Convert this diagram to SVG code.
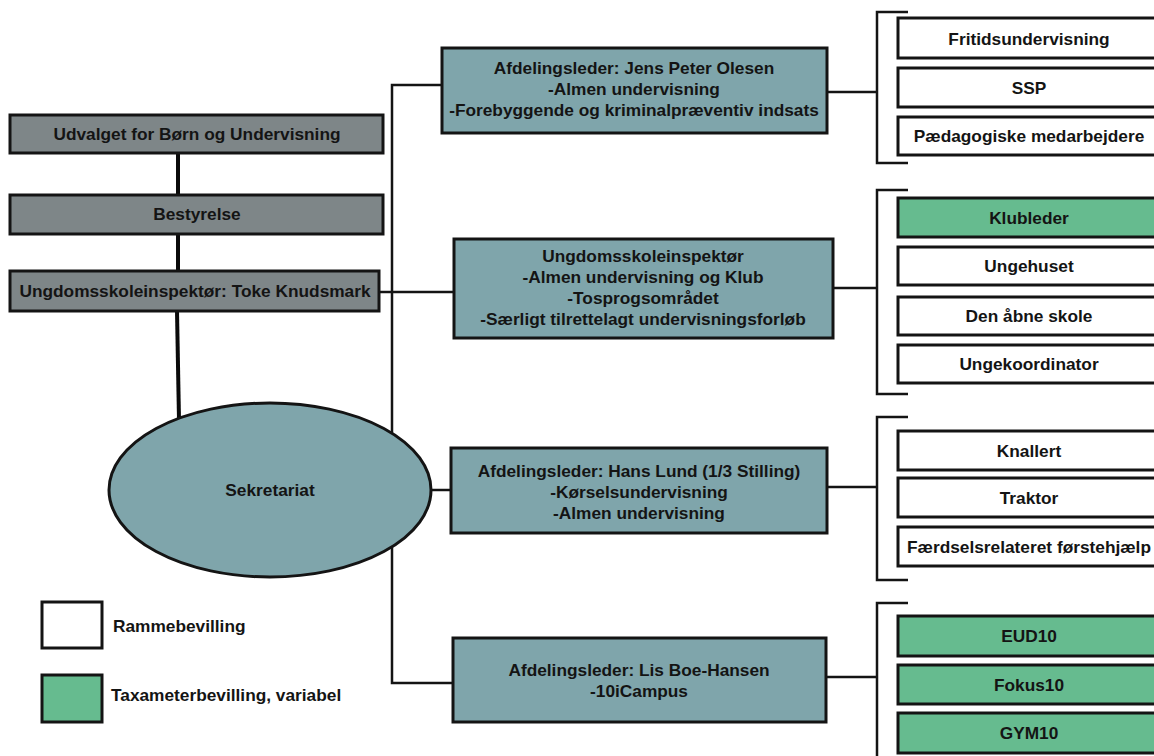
<svg xmlns="http://www.w3.org/2000/svg" width="1154" height="756" viewBox="0 0 1154 756">
<style>
text{font-family:"Liberation Sans",Arial,sans-serif;font-weight:bold;font-size:17.3px;fill:#141414;text-anchor:middle}
.gray{fill:#7e8688;stroke:#141414;stroke-width:3}
.teal{fill:#7fa5ab;stroke:#141414;stroke-width:3}
.white{fill:#ffffff;stroke:#141414;stroke-width:3}
.green{fill:#66bb8f;stroke:#141414;stroke-width:3}
.ln{fill:none;stroke:#141414;stroke-width:2.5}
.thick{fill:none;stroke:#0a0a0a;stroke-width:4}
.lg{text-anchor:start}
</style>
<rect width="1154" height="756" fill="#ffffff"/>
<g id="connectors">
<line class="thick" x1="178" y1="153" x2="178" y2="195"/>
<line class="thick" x1="178" y1="234" x2="178" y2="271"/>
<line class="thick" x1="177" y1="311" x2="179" y2="420"/>
<polyline class="ln" points="379,292 392,292"/>
<polyline class="ln" points="442,85 392,85 392,683 453,683"/>
<line class="ln" x1="392" y1="292" x2="454" y2="292"/>
<line class="ln" x1="430" y1="490" x2="451" y2="490"/>
<line class="ln" x1="827" y1="92" x2="877" y2="92"/>
<line class="ln" x1="833" y1="288" x2="877" y2="288"/>
<line class="ln" x1="827" y1="487" x2="877" y2="487"/>
<line class="ln" x1="826" y1="677" x2="877" y2="677"/>
<polyline class="ln" points="908,12 877,12 877,163 908,163"/>
<polyline class="ln" points="908,190 877,190 877,394 908,394"/>
<polyline class="ln" points="908,417 877,417 877,580 908,580"/>
<polyline class="ln" points="908,603 877,603 877,760"/>
</g>
<g id="udvalget"><rect class="gray" x="10" y="115" width="373" height="38"/><text x="197" y="140">Udvalget for Børn og Undervisning</text></g>
<g id="bestyrelse"><rect class="gray" x="10" y="195" width="373" height="39"/><text x="197" y="220">Bestyrelse</text></g>
<g id="toke"><rect class="gray" x="10" y="271" width="369" height="40"/><text x="195" y="297">Ungdomsskoleinspektør: Toke Knudsmark</text></g>
<g id="sekretariat"><ellipse class="teal" cx="270" cy="490" rx="161" ry="87" stroke-width="1.5"/><text x="270" y="496">Sekretariat</text></g>
<g id="jens"><rect class="teal" x="442" y="48" width="385" height="85"/><text x="634" y="74">Afdelingsleder: Jens Peter Olesen</text><text x="634" y="95">-Almen undervisning</text><text x="634" y="116">-Forebyggende og kriminalpræventiv indsats</text></g>
<g id="ungdom"><rect class="teal" x="454" y="239" width="379" height="99"/><text x="643" y="262">Ungdomsskoleinspektør</text><text x="643" y="283">-Almen undervisning og Klub</text><text x="643" y="304">-Tosprogsområdet</text><text x="643" y="325">-Særligt tilrettelagt undervisningsforløb</text></g>
<g id="hans"><rect class="teal" x="451" y="448" width="376" height="85"/><text x="639" y="477">Afdelingsleder: Hans Lund (1/3 Stilling)</text><text x="639" y="498">-Kørselsundervisning</text><text x="639" y="519">-Almen undervisning</text></g>
<g id="lis"><rect class="teal" x="453" y="638" width="373" height="84"/><text x="639" y="676">Afdelingsleder: Lis Boe-Hansen</text><text x="639" y="697">-10iCampus</text></g>
<g id="fritid"><rect class="white" x="898" y="18" width="270" height="40"/><text x="1029" y="45">Fritidsundervisning</text></g>
<g id="ssp"><rect class="white" x="898" y="68" width="270" height="39"/><text x="1029" y="94">SSP</text></g>
<g id="paed"><rect class="white" x="898" y="117" width="270" height="38"/><text x="1029" y="142">Pædagogiske medarbejdere</text></g>
<g id="klubleder"><rect class="green" x="898" y="198" width="270" height="39"/><text x="1029" y="224">Klubleder</text></g>
<g id="ungehuset"><rect class="white" x="898" y="247" width="270" height="38"/><text x="1029" y="272">Ungehuset</text></g>
<g id="denaabne"><rect class="white" x="898" y="297" width="270" height="38"/><text x="1029" y="322">Den åbne skole</text></g>
<g id="ungekoord"><rect class="white" x="898" y="345" width="270" height="38"/><text x="1029" y="370">Ungekoordinator</text></g>
<g id="knallert"><rect class="white" x="898" y="431" width="270" height="39"/><text x="1029" y="457">Knallert</text></g>
<g id="traktor"><rect class="white" x="898" y="478" width="270" height="39"/><text x="1029" y="504">Traktor</text></g>
<g id="faerdsel"><rect class="white" x="898" y="527" width="270" height="39"/><text x="1029" y="553">Færdselsrelateret førstehjælp</text></g>
<g id="eud10"><rect class="green" x="898" y="616" width="270" height="40"/><text x="1029" y="642">EUD10</text></g>
<g id="fokus10"><rect class="green" x="898" y="665" width="270" height="39"/><text x="1029" y="691">Fokus10</text></g>
<g id="gym10"><rect class="green" x="898" y="713" width="270" height="40"/><text x="1029" y="739">GYM10</text></g>
<g id="legend-ramme"><rect class="white" x="42" y="602" width="60" height="46"/><text class="lg" x="113" y="632">Rammebevilling</text></g>
<g id="legend-taxa"><rect class="green" x="42" y="675" width="60" height="47"/><text class="lg" x="111" y="701">Taxameterbevilling, variabel</text></g>
</svg>
